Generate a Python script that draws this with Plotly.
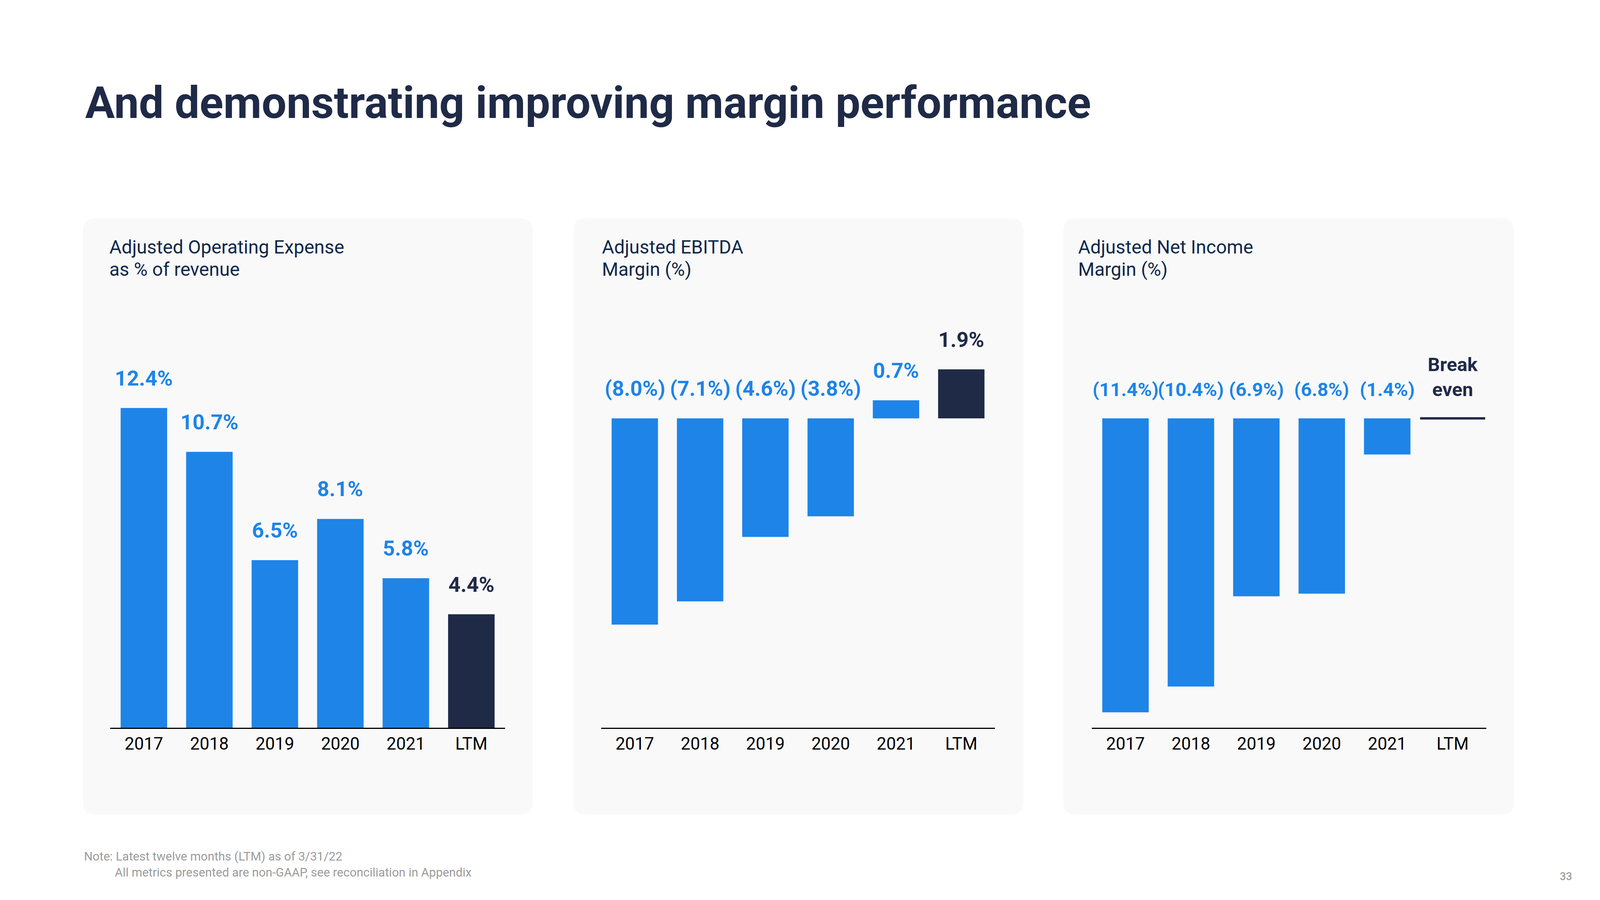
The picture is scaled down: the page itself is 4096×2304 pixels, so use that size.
import plotly.graph_objects as go

# ---------------- data ----------------
CATEGORIES = ["2017", "2018", "2019", "2020", "2021", "LTM"]

OPEX_VALUES = [12.4, 10.7, 6.5, 8.1, 5.8, 4.4]
OPEX_LABELS = ["12.4%", "10.7%", "6.5%", "8.1%", "5.8%", "4.4%"]

EBITDA_VALUES = [-8.0, -7.1, -4.6, -3.8, 0.7, 1.9]
EBITDA_LABELS = ["(8.0%)", "(7.1%)", "(4.6%)", "(3.8%)", "0.7%", "1.9%"]

NI_VALUES = [-11.4, -10.4, -6.9, -6.8, -1.4, 0.0]
NI_LABELS = ["(11.4%)", "(10.4%)", "(6.9%)", "(6.8%)", "(1.4%)", "Break<br>even"]

TITLE = "And demonstrating improving margin performance"
PANEL_TITLES = [
    ["Adjusted Operating Expense", "as % of revenue"],
    ["Adjusted EBITDA", "Margin (%)"],
    ["Adjusted Net Income", "Margin (%)"],
]
FOOTNOTES = [
    "Note: Latest twelve months (LTM) as of 3/31/22",
    "All metrics presented are non-GAAP, see reconciliation in Appendix",
]
PAGE_NUMBER = "33"

# ---------------- styling ----------------
W, H = 4096, 2304
FONT = "Roboto"
BLUE = "#1e84e8"
NAVY = "#1f2a47"
HEAD = "#10284a"
PANEL_BG = "#f9f9f9"
GREY = "#9b9b9b"
DESC = 0.244  # font descent ratio used for baseline placement

PX_PER_PCT = 66.0
AXIS_Y = 1863.0
PLOT_TOP = 800.0
ZERO_Y_NEG = 1071.0

def fx(x):
    return x / W

def fy(y):
    return 1 - y / H

def text_at(x, baseline, text, size, color, weight=400, anchor="left"):
    return dict(
        x=fx(x), y=fy(baseline + DESC * size), xref="paper", yref="paper",
        xanchor=anchor, yanchor="bottom", text=text, showarrow=False, borderpad=0,
        font=dict(family=FONT, size=size, color=color, weight=weight),
    )

panels = [
    dict(box=(212, 559, 1364, 2085), axis=(282, 1293),
         values=OPEX_VALUES, labels=OPEX_LABELS, head_x=279, label_size=54,
         yr=(0, (AXIS_Y - PLOT_TOP) / PX_PER_PCT)),
    dict(box=(1468, 559, 2620, 2085), axis=(1539, 2547),
         values=EBITDA_VALUES, labels=EBITDA_LABELS, head_x=1540, label_size=54,
         yr=(-(AXIS_Y - ZERO_Y_NEG) / PX_PER_PCT, (ZERO_Y_NEG - PLOT_TOP) / PX_PER_PCT)),
    dict(box=(2722, 559, 3876, 2085), axis=(2795, 3805),
         values=NI_VALUES, labels=NI_LABELS, head_x=2759, label_size=49,
         yr=(-(AXIS_Y - ZERO_Y_NEG) / PX_PER_PCT, (ZERO_Y_NEG - PLOT_TOP) / PX_PER_PCT)),
]

fig = go.Figure()
shapes = []
annotations = []
layout_axes = {}

R = 31
for k, p in enumerate(panels):
    sfx = "" if k == 0 else str(k + 1)
    xa, ya = "x" + sfx, "y" + sfx
    n = len(CATEGORIES)
    colors = [BLUE] * (n - 1) + [NAVY]
    fig.add_trace(go.Bar(x=CATEGORIES, y=p["values"], marker=dict(color=colors, line=dict(width=0)),
                         xaxis=xa, yaxis=ya, hoverinfo="skip"))

    # rounded panel background
    x0, y0, x1, y1 = p["box"]
    path = (f"M {fx(x0+R)} {fy(y0)} L {fx(x1-R)} {fy(y0)} Q {fx(x1)} {fy(y0)} {fx(x1)} {fy(y0+R)} "
            f"L {fx(x1)} {fy(y1-R)} Q {fx(x1)} {fy(y1)} {fx(x1-R)} {fy(y1)} "
            f"L {fx(x0+R)} {fy(y1)} Q {fx(x0)} {fy(y1)} {fx(x0)} {fy(y1-R)} "
            f"L {fx(x0)} {fy(y0+R)} Q {fx(x0)} {fy(y0)} {fx(x0+R)} {fy(y0)} Z")
    shapes.append(dict(type="path", path=path, xref="paper", yref="paper",
                       fillcolor=PANEL_BG, line=dict(width=0), layer="below"))

    layout_axes["xaxis" + sfx] = dict(
        domain=[fx(p["axis"][0]), fx(p["axis"][1])], anchor=ya,
        type="category", range=[-0.515, n - 1 + 0.515],
        showgrid=False, zeroline=False, showline=True, linecolor="#000000", linewidth=2.5,
        ticks="", ticklabelstandoff=0, fixedrange=True,
        tickfont=dict(family=FONT, size=44, color="#000000"),
    )
    layout_axes["yaxis" + sfx] = dict(
        domain=[fy(AXIS_Y), fy(PLOT_TOP)], anchor=xa, range=list(p["yr"]),
        showgrid=False, zeroline=False, showline=False, showticklabels=False,
        ticks="", fixedrange=True,
    )

    # panel header
    for j, line in enumerate(PANEL_TITLES[k]):
        annotations.append(text_at(p["head_x"], 650 + 57 * j, line, 48, HEAD))

    # value labels (x given as category index)
    for i, (v, lab) in enumerate(zip(p["values"], p["labels"])):
        col = NAVY if i == n - 1 else BLUE
        annotations.append(dict(
            x=i, y=max(v, 0), xref=xa, yref=ya, xanchor="center", yanchor="bottom",
            yshift=44, text=lab, showarrow=False, borderpad=0,
            font=dict(family=FONT, size=p["label_size"], color=col, weight=700),
        ))

# break-even marker on the LTM net income position
fig.add_trace(go.Scatter(
    x=[CATEGORIES[-1]], y=[NI_VALUES[-1]], mode="markers", xaxis="x3", yaxis="y3",
    marker=dict(symbol="line-ew", size=119, color=NAVY, line=dict(width=6, color=NAVY)),
    hoverinfo="skip",
))

# title, footnotes, page number
annotations.append(text_at(217, 303, TITLE, 113, NAVY, weight=700))
annotations.append(text_at(214, 2204, FOOTNOTES[0], 31, GREY))
annotations.append(text_at(293, 2245, FOOTNOTES[1], 31, GREY))
annotations.append(text_at(4025, 2254, PAGE_NUMBER, 28, "#8c8c8c", anchor="right"))

fig.update_layout(
    width=W, height=H, margin=dict(l=0, r=0, t=0, b=0),
    paper_bgcolor="#ffffff", plot_bgcolor="rgba(0,0,0,0)",
    showlegend=False, bargap=0.29,
    font=dict(family=FONT),
    shapes=shapes, annotations=annotations,
    **layout_axes,
)

fig.write_html("out.html", config={"displayModeBar": False},
               post_script="document.body.style.margin='0px';")
